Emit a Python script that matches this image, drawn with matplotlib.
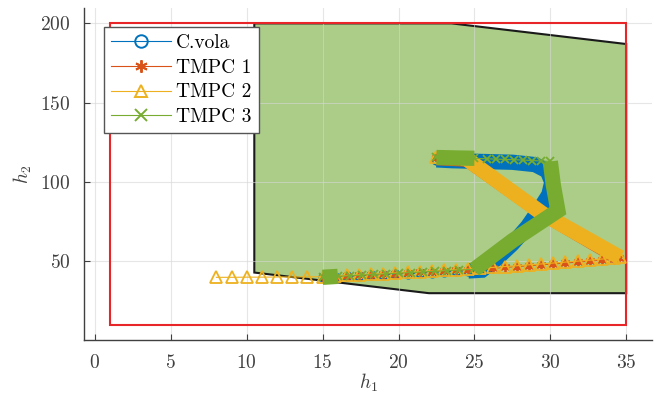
import matplotlib
matplotlib.use("Agg")
import matplotlib.pyplot as plt
from matplotlib.patches import Polygon, Rectangle
from matplotlib.lines import Line2D

# ---------------- data ----------------
# feasible (terminal) set polygon vertices
region_h1 = [10.5, 23.5, 35.0, 35.0, 22.0, 10.5]
region_h2 = [200.0, 200.0, 187.0, 30.0, 30.0, 43.0]
# state constraint box
box_h1 = [1.0, 35.0]
box_h2 = [10.0, 200.0]

# C.vola trajectory
cvola_h1 = [15.0, 15.2, 15.4, 15.8, 16.6, 17.4, 18.2, 19.0, 19.8, 20.6, 21.4, 22.2, 23.0, 23.8, 24.6,
            25.5, 26.5, 27.5, 28.5, 29.3, 29.9, 30.1, 29.8, 29.0, 27.5, 25.5, 23.5, 22.5]
cvola_h2 = [40.0, 40.1, 40.2, 40.3, 40.6, 41.0, 41.3, 41.7, 42.0, 42.4, 42.7, 43.0, 43.4, 43.7, 44.0,
            44.5, 52.0, 61.0, 72.0, 83.0, 92.0, 100.0, 107.0, 111.0, 112.5, 113.0, 113.5, 114.0]
cvola_band = (14, 28)

# TMPC 1 trajectory
tmpc1_h1 = [15.0, 15.8, 16.6, 17.4, 18.2, 19.0, 19.8, 20.6, 21.4, 22.2, 23.0, 23.8, 24.6, 25.4,
            26.2, 27.0, 27.8, 28.6, 29.4, 30.2, 31.0, 31.8, 32.6, 33.4, 34.2,
            34.5, 29.5, 24.5, 23.5, 22.5]
tmpc1_h2 = [40.0, 40.4, 40.8, 41.2, 41.6, 42.0, 42.4, 42.8, 43.2, 43.6, 44.0, 44.4, 44.8, 45.2,
            45.7, 46.2, 46.8, 47.3, 47.9, 48.4, 49.0, 49.6, 50.2, 50.8, 51.5,
            52.0, 80.0, 114.0, 114.5, 115.0]
tmpc1_band = (25, 30)

# TMPC 2 trajectory
tmpc2_h1 = [8.0, 9.0, 10.0, 11.0, 12.0, 13.0, 14.0, 15.0, 15.8, 16.6, 17.4, 18.2, 19.0, 19.8, 20.6,
            21.4, 22.2, 23.0, 23.8, 24.6, 25.4, 26.2, 27.0, 27.8, 28.6, 29.4, 30.2, 31.0, 31.8,
            32.6, 33.4, 34.2, 34.6, 29.5, 24.5, 24.0, 23.5, 23.0, 22.5]
tmpc2_h2 = [40.0, 40.0, 40.1, 40.1, 40.2, 40.2, 40.3, 40.4, 40.8, 41.2, 41.6, 42.0, 42.4, 42.8, 43.2,
            43.6, 44.0, 44.4, 44.8, 45.2, 45.7, 46.2, 46.8, 47.3, 47.9, 48.4, 49.0, 49.6, 50.2,
            50.8, 51.5, 52.0, 52.5, 80.0, 114.5, 115.0, 115.0, 115.5, 115.5]
tmpc2_band = (32, 35)

# TMPC 3 trajectory
tmpc3_h1 = [15.0, 15.5, 16.0, 16.8, 17.6, 18.4, 19.2, 20.0, 20.8, 21.6, 22.4, 23.2, 24.0, 25.0,
            27.5, 30.5, 30.2, 30.0, 29.4, 28.8, 28.2, 27.6, 27.0, 26.4, 25.8, 25.0, 23.8, 22.5]
tmpc3_h2 = [40.0, 40.3, 40.6, 41.0, 41.4, 41.8, 42.2, 42.6, 43.0, 43.4, 43.8, 44.2, 44.6, 45.0,
            63.0, 82.0, 98.0, 113.0, 113.3, 113.6, 113.9, 114.1, 114.3, 114.5, 114.7, 115.0, 115.2, 115.5]
tmpc3_bands = [(0, 3), (13, 18), (25, 28)]

labels = ["C.vola", "TMPC 1", "TMPC 2", "TMPC 3"]
colors = ["#0072BD", "#D95319", "#EDB120", "#77AC30"]
markers = ["o", (6, 2, 0), "^", "x"]

xticks = [0, 5, 10, 15, 20, 25, 30, 35]
yticks = [50, 100, 150, 200]

# ---------------- plot ----------------
plt.rcParams["font.family"] = ["cmr10", "DejaVu Serif"]
plt.rcParams["mathtext.fontset"] = "cm"
plt.rcParams["axes.formatter.use_mathtext"] = True

fig = plt.figure(figsize=(6.57, 3.96), dpi=100)
ax = fig.add_axes([84.3 / 657, 1 - 340 / 396, (652 - 84.3) / 657, 332 / 396])

poly = Polygon(list(zip(region_h1, region_h2)), closed=True, facecolor="#ABCD88",
               edgecolor="#1a1a1a", linewidth=1.5, zorder=0.3)
ax.add_patch(poly)
rect = Rectangle((box_h1[0], box_h2[0]), box_h1[1] - box_h1[0], box_h2[1] - box_h2[0],
                 fill=False, edgecolor="#E8262A", linewidth=1.5, zorder=1)
ax.add_patch(rect)

series = [
    (cvola_h1, cvola_h2, [cvola_band], 6, 11),
    (tmpc1_h1, tmpc1_h2, [tmpc1_band], 7, 10),
    (tmpc2_h1, tmpc2_h2, [tmpc2_band], 8, 11),
    (tmpc3_h1, tmpc3_h2, tmpc3_bands, 6, 11),
]
for (hx, hy, bands, ms, bw), c, m in zip(series, colors, markers):
    for a, b in bands:
        ax.plot(hx[a:b], hy[a:b], color=c, linewidth=bw, solid_capstyle="butt",
                solid_joinstyle="miter", zorder=2)
    mfc = "none" if m in ("o", "^") else c
    ax.plot(hx, hy, color=c, linewidth=0.8, marker=m, markersize=ms,
            markerfacecolor=mfc, markeredgecolor=c, markeredgewidth=1.3, zorder=2)

ax.set_xlim(-0.7, 36.7)
ax.set_ylim(0.5, 209.7)
ax.set_xticks(xticks)
ax.set_yticks(yticks)
ax.set_axisbelow(True)
ax.grid(True, color="#d6d6d6", alpha=0.6, linewidth=0.8)
ax.tick_params(direction="in", length=4, colors="#404040", labelsize=14,
               width=0.8, pad=10)
for s in ["top", "right"]:
    ax.spines[s].set_visible(False)
for s in ["left", "bottom"]:
    ax.spines[s].set_color("#404040")
    ax.spines[s].set_linewidth(1.0)

ax.set_xlabel(r"$h_1$", fontsize=14, color="#404040", labelpad=0)
ax.set_ylabel(r"$h_2$", fontsize=14, color="#404040", labelpad=4)

handles = [Line2D([0], [0], color=c, marker=m, linewidth=0.8, markersize=9,
                  markerfacecolor="none" if m in ("o", "^") else c,
                  markeredgecolor=c, markeredgewidth=1.4)
           for c, m in zip(colors, markers)]
leg = ax.legend(handles, labels, loc="upper left", bbox_to_anchor=(19.7 / 567.7, 313 / 332),
                borderaxespad=0, fontsize=14, handlelength=3.1, handletextpad=0.26,
                fancybox=False, framealpha=1, edgecolor="#555555", borderpad=0.36,
                labelspacing=0.35)
leg.get_frame().set_linewidth(1.0)
leg.set_zorder(5)

fig.savefig("out.png", dpi=100)
